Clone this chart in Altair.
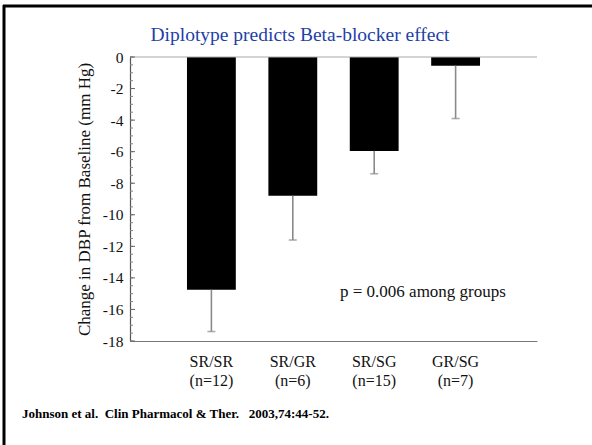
import altair as alt
import pandas as pd

# ---- data ----
groups = ["SR/SR", "SR/GR", "SR/SG", "GR/SG"]
ns = ["(n=12)", "(n=6)", "(n=15)", "(n=7)"]
means = [-14.75, -8.8, -5.95, -0.55]
err_low = [-17.4, -11.6, -7.4, -3.9]
y_ticks = [0, -2, -4, -6, -8, -10, -12, -14, -16, -18]
minor_ticks = [v / 2 for v in range(-36, 1)]

title_text = "Diplotype predicts Beta-blocker effect"
y_title = "Change in DBP from Baseline (mm Hg)"
note_text = "p = 0.006 among groups"
footer_text = "Johnson et al.\u00a0 Clin Pharmacol & Ther.\u00a0\u00a0 2003,74:44-52."

W, H = 407, 284
SERIF = "Liberation Serif"

df = pd.DataFrame({
    "label": [g + "\n" + n for g, n in zip(groups, ns)],
    "mean": means,
    "low": err_low,
})
ticks_df = pd.DataFrame({"v": minor_ticks})
major_df = pd.DataFrame({"v": y_ticks})
one = pd.DataFrame({"a": [0]})

xaxis = alt.Axis(
    title=None, ticks=False, labelAngle=0, labelFont=SERIF,
    labelFontSize=16, labelColor="#111", labelPadding=12,
    labelExpr="split(datum.label, '\\n')", labelLineHeight=19,
    domainColor="#777", domainWidth=1.2, labelBaseline="top",
)
yaxis = alt.Axis(
    values=y_ticks, title=y_title, labelExpr="'' + datum.value",
    labelFont=SERIF, labelFontSize=15.5, labelColor="#111",
    labelOverlap=False, labelFlush=False, labelBound=False,
    titleFont=SERIF, titleFontSize=17, titleFontWeight="normal",
    titleColor="#111", titleX=-37, titleY=142, titleAngle=270,
    titleBaseline="bottom", titleAlign="center",
    ticks=False, labelPadding=7, domainColor="#555", domainWidth=1.2,
    grid=False,
)
xscale = alt.Scale(paddingInner=0.4, paddingOuter=0.7)
yscale = alt.Scale(domain=[-18, 0], nice=False, zero=False)

xs = alt.X("label:N", sort=None, scale=xscale, axis=xaxis)

bars = alt.Chart(df).mark_bar(color="#000000").encode(
    x=xs, y=alt.Y("mean:Q", scale=yscale, axis=yaxis), y2=alt.datum(0)
)
err = alt.Chart(df).mark_rule(color="#8a8a8a", strokeWidth=1.6).encode(
    x=xs, y=alt.Y("mean:Q", scale=yscale, axis=yaxis), y2="low:Q"
)
caps = alt.Chart(df).mark_tick(color="#8a8a8a", thickness=1.6, size=8).encode(
    x=xs, y=alt.Y("low:Q", scale=yscale, axis=yaxis)
)

zero_line = alt.Chart(one).mark_rule(color="#aaaaaa", strokeWidth=1.2).encode(
    y=alt.Y("a:Q", scale=yscale, axis=yaxis), x=alt.value(0), x2=alt.value(W)
)
minor = alt.Chart(ticks_df).mark_rule(color="#888", strokeWidth=1).encode(
    y=alt.Y("v:Q", scale=yscale, axis=yaxis), x=alt.value(0), x2=alt.value(3)
)
major = alt.Chart(major_df).mark_rule(color="#666", strokeWidth=1).encode(
    y=alt.Y("v:Q", scale=yscale, axis=yaxis), x=alt.value(0), x2=alt.value(5)
)

title = alt.Chart(one).mark_text(
    text=title_text, font=SERIF, fontSize=19.5, color="#1f3fa6",
    align="center", baseline="alphabetic"
).encode(x=alt.value(170), y=alt.value(-16))

note = alt.Chart(one).mark_text(
    text=note_text, font=SERIF, fontSize=17, color="#111",
    align="left", baseline="alphabetic"
).encode(x=alt.value(210), y=alt.value(240))

footer = alt.Chart(one).mark_text(
    text=footer_text, font=SERIF, fontSize=13, fontWeight="bold", color="#000",
    align="left", baseline="alphabetic"
).encode(x=alt.value(-108), y=alt.value(361))

border_top = alt.Chart(one).mark_rule(color="#000", strokeWidth=3).encode(
    x=alt.value(-127), x2=alt.value(W + 55), y=alt.value(-51)
)
border_left = alt.Chart(one).mark_rule(color="#000", strokeWidth=3).encode(
    x=alt.value(-126), y=alt.value(-52), y2=alt.value(H + 104)
)

chart = alt.layer(
    bars, zero_line, err, caps, minor, major, title, note, footer,
    border_top, border_left
).properties(
    width=W, height=H,
    autosize=alt.AutoSizeParams(type="none"),
    padding={"left": 130, "top": 57, "right": 55, "bottom": 104},
    background="white",
).configure_view(stroke=None).configure_axis(labelOverlap=False)

chart.save("out.html", embed_options={"renderer": "svg", "actions": False})
